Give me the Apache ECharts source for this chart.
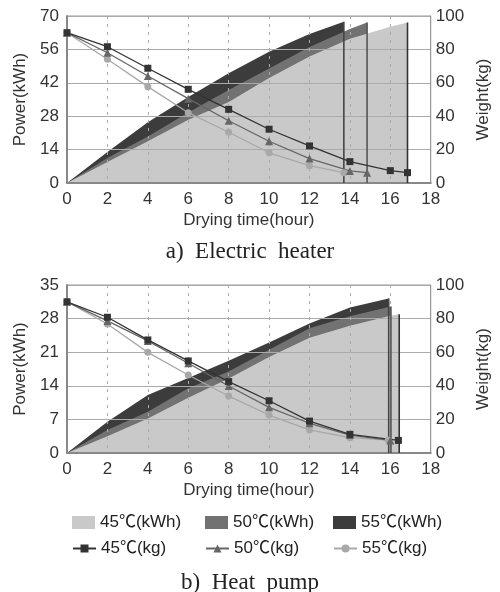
<html>
<head>
  <meta charset="utf-8" />
  <script src="https://cdn.jsdelivr.net/npm/echarts@6/dist/echarts.min.js"></script>
  <style>
    html, body { margin: 0; padding: 0; background: #fff; }
    #chart { width: 500px; height: 592px; }
  </style>
</head>
<body>
  <div id="chart"></div>
  <script>
    // a) Electric heater - cumulative power (kWh)
    var ehKwh45X = [0, 2, 4, 6, 8, 10, 12, 14, 16, 16.85];
    var ehKwh45 = [0, 8.8, 17.5, 26.5, 34, 44, 53, 60.5, 65.5, 67.3];
    var ehKwh50X = [0, 2, 4, 6, 8, 10, 12, 14, 14.85];
    var ehKwh50 = [0, 10.5, 19.5, 29.5, 39, 48, 57, 64.5, 67.3];
    var ehKwh55X = [0, 2, 4, 6, 8, 10, 12, 13.7];
    var ehKwh55 = [0, 13, 25.5, 36, 46, 55, 62.5, 67.6];
    // a) Electric heater - weight (kg)
    var ehKg45X = [0, 2, 4, 6, 8, 10, 12, 14, 16, 16.85];
    var ehKg45 = [90, 81.6, 68.7, 56.1, 44.1, 32.2, 22.2, 12.8, 7.4, 6.2];
    var ehKg50X = [0, 2, 4, 6, 8, 10, 12, 14, 14.85];
    var ehKg50 = [90, 78, 64.1, 50.5, 37.3, 25, 14.6, 7.2, 6.2];
    var ehKg55X = [0, 2, 4, 6, 8, 10, 12, 13.7];
    var ehKg55 = [90, 74.1, 57.7, 42.1, 30.4, 18.1, 10.4, 6.2];

    // b) Heat pump - cumulative power (kWh)
    var hpKwh45X = [0, 2, 4, 6, 8, 10, 12, 14, 16, 16.44];
    var hpKwh45 = [0, 3.5, 7.2, 11.5, 15.5, 20, 24, 26.5, 28.6, 28.9];
    var hpKwh50X = [0, 2, 4, 6, 8, 10, 12, 14, 16.03];
    var hpKwh50 = [0, 4.8, 8.6, 13.5, 17, 21.5, 26, 28.5, 30.5];
    var hpKwh55X = [0, 2, 4, 6, 8, 10, 12, 14, 15.92];
    var hpKwh55 = [0, 6.5, 12.1, 15.6, 19.2, 23, 27, 30.3, 32.2];
    // b) Heat pump - weight (kg)
    var hpKg45X = [0, 2, 4, 6, 8, 10, 12, 14, 16.4];
    var hpKg45 = [90, 80.8, 67.3, 54.8, 42.5, 31.1, 19, 11.1, 7.5];
    var hpKg50X = [0, 2, 4, 6, 8, 10, 12, 14, 16];
    var hpKg50 = [90, 78.6, 66.7, 53.4, 39.9, 27.2, 17.7, 10.7, 7.5];
    var hpKg55X = [0, 2, 4, 6, 8, 10, 12, 14, 15.9];
    var hpKg55 = [90, 76.8, 59.9, 46.4, 33.9, 22.6, 13.7, 9.1, 7.7];

    var kwhNames = ['45℃(kWh)', '50℃(kWh)', '55℃(kWh)'];
    var kgNames = ['45℃(kg)', '50℃(kg)', '55℃(kg)'];
    var captions = ['a)  Electric  heater', 'b)  Heat  pump'];
    var powerMax = [70, 35];
    var powerStep = [14, 7];

    var font = 'Liberation Sans, Noto Sans CJK KR, sans-serif';
    var areaColors = ['#c9c9c9', '#727272', '#3c3c3c'];
    var edgeColors = ['#333', '#555', '#444'];
    var lineColors = ['#333', '#666', '#a8a8a8'];
    var symbols = ['rect', 'triangle', 'circle'];

    var zip = function (xs, ys) {
      return xs.map(function (x, i) { return [x, ys[i]]; });
    };

    var charts = [
      { kwh: [[ehKwh45X, ehKwh45], [ehKwh50X, ehKwh50], [ehKwh55X, ehKwh55]],
        kg: [[ehKg45X, ehKg45], [ehKg50X, ehKg50], [ehKg55X, ehKg55]] },
      { kwh: [[hpKwh45X, hpKwh45], [hpKwh50X, hpKwh50], [hpKwh55X, hpKwh55]],
        kg: [[hpKg45X, hpKg45], [hpKg50X, hpKg50], [hpKg55X, hpKg55]] }
    ];

    var grids = [
      { left: 67, right: 62, top: 16, height: 167 },
      { left: 67, right: 62, top: 285, height: 168 }
    ];

    var xAxes = [], yAxes = [], series = [];
    var labelStyle = { color: '#333', fontSize: 17, fontFamily: font };

    charts.forEach(function (c, g) {
      grids[g].show = true;
      grids[g].borderColor = '#999';
      grids[g].borderWidth = 1;

      xAxes.push({
        type: 'value', gridIndex: g, min: 0, max: 18, interval: 2, z: 3,
        name: 'Drying time(hour)', nameLocation: 'middle', nameGap: 29,
        nameTextStyle: labelStyle,
        axisLine: { lineStyle: { color: '#888', width: 2 } },
        axisTick: { show: false },
        axisLabel: Object.assign({ margin: 8 }, labelStyle),
        splitLine: { lineStyle: { color: '#aaa', type: [3, 5] } }
      });
      yAxes.push({
        type: 'value', gridIndex: g, min: 0, max: powerMax[g], interval: powerStep[g], z: 3,
        name: 'Power(kWh)', nameLocation: 'middle', nameGap: 35,
        nameTextStyle: labelStyle,
        axisLine: { show: true, lineStyle: { color: '#888', width: 2 } },
        axisTick: { show: false },
        axisLabel: Object.assign({ margin: 8 }, labelStyle),
        splitLine: { lineStyle: { color: '#aaa' } }
      });
      yAxes.push({
        type: 'value', gridIndex: g, position: 'right', min: 0, max: 100, interval: 20, z: 3,
        name: 'Weight(kg)', nameLocation: 'middle', nameGap: 38,
        nameTextStyle: labelStyle,
        axisLine: { show: true, lineStyle: { color: '#999' } },
        axisTick: { show: false },
        axisLabel: Object.assign({ margin: 5 }, labelStyle),
        splitLine: { show: false }
      });

      // areas: 55 at the back, 45 in front
      [2, 1, 0].forEach(function (k) {
        series.push({
          name: kwhNames[k], type: 'line', xAxisIndex: g, yAxisIndex: 2 * g,
          data: zip(c.kwh[k][0], c.kwh[k][1]), showSymbol: false, z: 1,
          color: areaColors[k],
          lineStyle: { width: 0 },
          areaStyle: { color: areaColors[k], opacity: 1 },
          silent: true
        });
      });
      // vertical drop at the end of each area
      [2, 1, 0].forEach(function (k) {
        var xs = c.kwh[k][0], ys = c.kwh[k][1];
        var xe = xs[xs.length - 1];
        series.push({
          type: 'line', xAxisIndex: g, yAxisIndex: 2 * g, z: 4,
          data: [[xe, 0], [xe, ys[ys.length - 1]]], showSymbol: false,
          lineStyle: { color: edgeColors[k], width: 1.6 }, silent: true
        });
      });
      // weight lines
      [2, 1, 0].forEach(function (k) {
        series.push({
          name: kgNames[k], type: 'line', xAxisIndex: g, yAxisIndex: 2 * g + 1, z: 5,
          data: zip(c.kg[k][0], c.kg[k][1]),
          symbol: symbols[k], symbolSize: k === 1 ? 8 : 7,
          color: lineColors[k],
          lineStyle: { color: lineColors[k], width: 1.3 },
          itemStyle: { color: lineColors[k] }
        });
      });
    });

    var legendCols = [67, 200, 328];
    var legends = [];
    kwhNames.forEach(function (n, i) {
      legends.push({
        left: legendCols[i], top: 509, data: [{ name: n, icon: 'rect' }],
        itemWidth: 23, itemHeight: 13, selectedMode: false,
        textStyle: { fontSize: 17, color: '#222', fontFamily: font }
      });
    });
    kgNames.forEach(function (n, i) {
      legends.push({
        left: legendCols[i], top: 535, data: [n],
        itemWidth: 23, itemHeight: 10, selectedMode: false,
        textStyle: { fontSize: 17, color: '#222', fontFamily: font }
      });
    });

    var titles = captions.map(function (t, i) {
      return {
        text: t, left: 'center', top: i === 0 ? 235 : 566,
        textStyle: { fontFamily: 'Liberation Serif, serif', fontSize: 23, fontWeight: 'normal', color: '#222' }
      };
    });

    var myChart = echarts.init(document.getElementById('chart'));
    myChart.setOption({
      animation: false,
      backgroundColor: '#fff',
      title: titles,
      legend: legends,
      grid: grids,
      xAxis: xAxes,
      yAxis: yAxes,
      series: series
    });
  </script>
</body>
</html>
